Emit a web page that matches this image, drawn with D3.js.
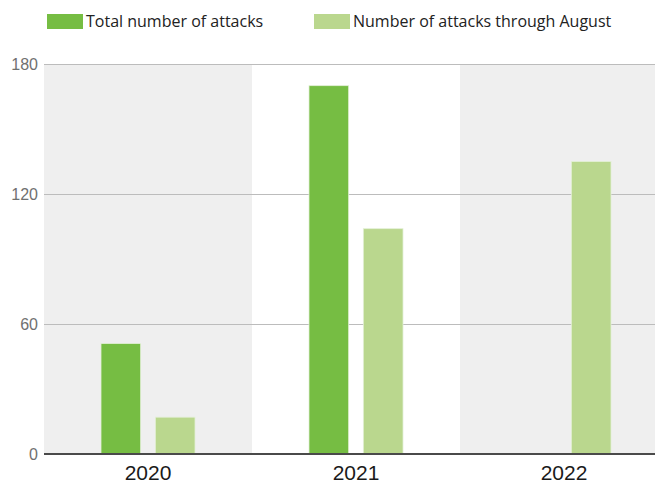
<!DOCTYPE html>
<html>
<head>
<meta charset="utf-8">
<script src="https://cdn.jsdelivr.net/npm/d3@7"></script>
<style>
  body { margin: 0; background: #fff; }
  svg { display: block; font-family: "Open Sans", "Noto Sans", sans-serif; }
</style>
</head>
<body>
<div id="chart"></div>
<script>
// data
var years = ["2020", "2021", "2022"];
var seriesNames = ["Total number of attacks", "Number of attacks through August"];
var totalAttacks = [51, 170, null];
var augustAttacks = [17, 104, 135];
var yTicks = [0, 60, 120, 180];
var colors = ["#76bd43", "#bad78e"];

var svgWidth = 655;
var svgHeight = 483;

var svg = d3.select("#chart")
  .append("svg")
  .attr("width", svgWidth)
  .attr("height", svgHeight);

// band range runs past the right edge, the last band is cut off like the original
var x = d3.scaleBand()
  .domain(years)
  .range([44, 668]);

var xInner = d3.scaleBand()
  .domain([0, 1])
  .range([57, 151])
  .paddingInner(0.27);

var y = d3.scaleLinear()
  .domain([0, 180])
  .range([454, 64]);

// alternating band backgrounds
svg.append("g")
  .selectAll("rect")
  .data(years)
  .enter()
  .append("rect")
  .attr("x", d => x(d))
  .attr("y", y(180))
  .attr("width", x.bandwidth())
  .attr("height", y(0) - y(180))
  .attr("fill", (d, i) => i % 2 === 0 ? "#efefef" : "#ffffff");

// gridlines + y labels
var yAxis = svg.append("g")
  .attr("transform", "translate(44,0)")
  .call(d3.axisLeft(y).tickValues(yTicks).tickSize(-(svgWidth - 44)).tickPadding(6));
yAxis.select(".domain").remove();
yAxis.selectAll(".tick line").attr("stroke", "#bcbcbc").attr("stroke-width", 1.2);
yAxis.selectAll(".tick text")
  .attr("fill", "#707070")
  .style("font-size", "16px");

// bars
var rows = [];
years.forEach(function(yr, i) {
  rows.push({ year: yr, s: 0, value: totalAttacks[i] });
  rows.push({ year: yr, s: 1, value: augustAttacks[i] });
});

svg.append("g")
  .selectAll("rect")
  .data(rows.filter(d => d.value != null))
  .enter()
  .append("rect")
  .attr("x", d => x(d.year) + xInner(d.s))
  .attr("y", d => y(d.value))
  .attr("width", xInner.bandwidth())
  .attr("height", d => y(0) - y(d.value))
  .attr("fill", d => colors[d.s])
  .attr("stroke", "#e4f0d8")
  .attr("stroke-width", 0.8);

// baseline + x labels
var xAxis = svg.append("g")
  .attr("transform", `translate(0, ${y(0)})`)
  .call(d3.axisBottom(x).tickSize(0).tickPadding(11));
xAxis.select(".domain").remove();
xAxis.selectAll(".tick text")
  .attr("fill", "#1a1a1a")
  .style("font-size", "21px");

svg.append("line")
  .attr("x1", 44)
  .attr("x2", svgWidth)
  .attr("y1", y(0))
  .attr("y2", y(0))
  .attr("stroke", "#4a4a4a")
  .attr("stroke-width", 1.8);

// legend
var legendX = [47, 314];
var legend = svg.append("g")
  .selectAll("g")
  .data(seriesNames)
  .enter()
  .append("g")
  .attr("transform", (d, i) => `translate(${legendX[i]}, 14)`);

legend.append("rect")
  .attr("width", 36)
  .attr("height", 15)
  .attr("fill", (d, i) => colors[i]);

legend.append("text")
  .attr("x", 39)
  .attr("y", 13)
  .attr("fill", "#222")
  .style("font-size", "16px")
  .text(d => d);
</script>
</body>
</html>
